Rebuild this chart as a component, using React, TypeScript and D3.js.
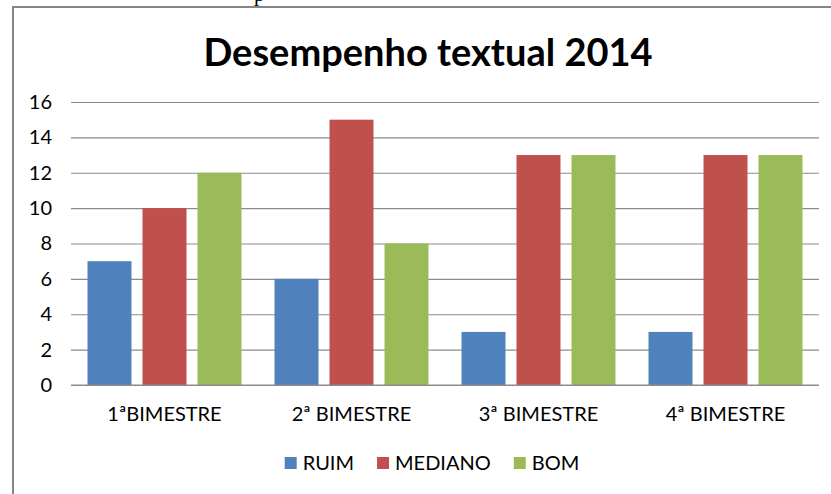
import * as React from "react";
import * as d3 from "d3";

const categories = ["1ªBIMESTRE", "2ª BIMESTRE", "3ª BIMESTRE", "4ª BIMESTRE"];
const seriesNames = ["RUIM", "MEDIANO", "BOM"];
const ruim = [7, 6, 3, 3];
const mediano = [10, 15, 13, 13];
const bom = [12, 8, 13, 13];
const yTicks = [0, 2, 4, 6, 8, 10, 12, 14, 16];
const colors = ["#4F81BD", "#C0504D", "#9BBB59"];

const W = 831;
const H = 494;
const FONT = "Lato, 'Open Sans', sans-serif";

export default function App() {
    const svgRef = React.useRef<SVGSVGElement>(null);

    React.useEffect(() => {
        const svg = d3.select(svgRef.current);
        svg.selectAll("*").remove();

        const values = [ruim, mediano, bom];
        const margin = { top: 102, right: 12, bottom: 109, left: 71 };

        // frame of the embedded chart (top and left edges only visible)
        svg.append("path")
            .attr("d", `M13,${H} V7 H${W}`)
            .attr("fill", "none")
            .attr("stroke", "#868686")
            .attr("stroke-width", 2);

        // descender of a letter from the surrounding document
        svg.append("text")
            .attr("x", 254)
            .attr("y", 1)
            .style("font-family", "'Liberation Serif', serif")
            .style("font-size", "21px")
            .text("p");

        svg.append("text")
            .attr("x", 428)
            .attr("y", 66)
            .attr("text-anchor", "middle")
            .style("font-family", FONT)
            .style("font-weight", "bold")
            .style("font-size", "38px")
            .text("Desempenho textual 2014");

        const y = d3.scaleLinear().domain([0, 16]).range([H - margin.bottom, margin.top]);
        const x0 = d3.scaleBand().domain(categories).range([margin.left, W - margin.right]);
        const groupPad = (x0.bandwidth() - 154) / 2;
        const x1 = d3.scaleBand()
            .domain(seriesNames)
            .range([groupPad, x0.bandwidth() - groupPad])
            .paddingInner(0.2);

        const yAxis = d3.axisLeft(y)
            .tickValues(yTicks)
            .tickSize(-(W - margin.right - margin.left))
            .tickPadding(19);
        const gy = svg.append("g")
            .attr("transform", `translate(${margin.left},0)`)
            .call(yAxis);
        gy.select(".domain").remove();
        gy.selectAll(".tick line").attr("stroke", "#8c8c8c").attr("stroke-width", 1.2);
        gy.selectAll(".tick text")
            .style("font-family", FONT)
            .style("font-size", "20px")
            .attr("fill", "#000");

        const groups = svg.append("g")
            .selectAll("g")
            .data(categories)
            .join("g")
            .attr("transform", (d) => `translate(${x0(d)},0)`);

        groups.selectAll("rect")
            .data((_, i) => seriesNames.map((s, k) => ({ s, v: values[k][i], k })))
            .join("rect")
            .attr("x", (d) => x1(d.s)!)
            .attr("width", x1.bandwidth())
            .attr("y", (d) => y(d.v))
            .attr("height", (d) => y(0) - y(d.v))
            .attr("fill", (d) => colors[d.k]);

        // baseline on top of bars
        svg.append("line")
            .attr("x1", margin.left)
            .attr("x2", W - margin.right)
            .attr("y1", y(0))
            .attr("y2", y(0))
            .attr("stroke", "#8c8c8c")
            .attr("stroke-width", 1.2);

        svg.append("g")
            .selectAll("text")
            .data(categories)
            .join("text")
            .attr("x", (d) => x0(d)! + x0.bandwidth() / 2)
            .attr("y", 421)
            .attr("text-anchor", "middle")
            .style("font-family", FONT)
            .style("font-size", "20px")
            .text((d) => d);

        // legend, centred like Excel does
        const legend = svg.append("g");
        const items = legend.selectAll("g")
            .data(seriesNames)
            .join("g");
        items.append("rect")
            .attr("width", 12)
            .attr("height", 12)
            .attr("y", -6)
            .attr("fill", (_, i) => colors[i]);
        items.append("text")
            .attr("x", 18)
            .attr("y", 7)
            .style("font-family", FONT)
            .style("font-size", "20px")
            .text((d) => d);
        let cx = 0;
        items.each(function () {
            const g = d3.select(this);
            const tw = (g.select("text").node() as SVGTextElement).getComputedTextLength();
            g.attr("transform", `translate(${cx},0)`);
            cx += 18 + tw + 23;
        });
        const total = cx - 23;
        legend.attr("transform", `translate(${432 - total / 2},463)`);
    }, []);

    return (
        <svg
            ref={svgRef}
            width={W}
            height={H}
            style={{ position: "absolute", left: 0, top: 0, background: "#fff" }}
        />
    );
}
